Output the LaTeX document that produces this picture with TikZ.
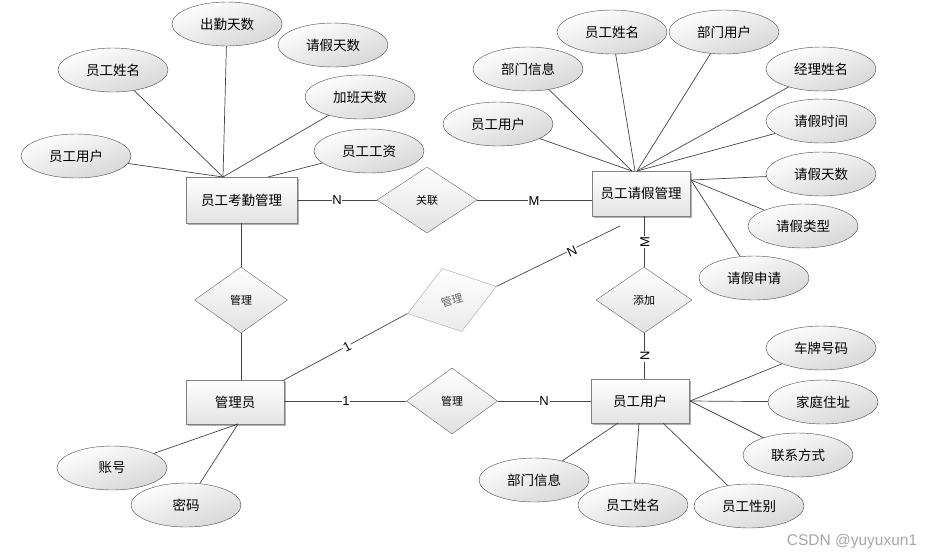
\documentclass[tikz,border=0pt]{standalone}
\usepackage{fontspec}
\setmainfont{Liberation Sans}
\newfontfamily\cjk{Noto Sans CJK SC}
\usetikzlibrary{shapes.geometric,shadows}
\definecolor{ln}{HTML}{454545}
\tikzset{
  ent/.style={rectangle, draw=black!50, top color=white, bottom color=black!11,
    minimum width=98pt, minimum height=44pt, inner sep=0pt,
    font=\cjk\fontsize{13.5}{15}\selectfont,
    drop shadow={shadow xshift=2pt, shadow yshift=-2pt, opacity=0.3, fill=black}},
  attr/.style={ellipse, draw=black!70, top color=white, bottom color=black!16,
    shading angle=20, minimum width=110pt, minimum height=44pt, inner sep=0pt,
    font=\cjk\fontsize{13.5}{15}\selectfont},
  rel/.style={diamond, draw=black!60, top color=white, bottom color=black!12,
    minimum width=93pt, minimum height=66pt, inner sep=0pt,
    font=\cjk\fontsize{11}{13}\selectfont},
  lab/.style={fill=white, inner sep=0.8pt, font=\fontsize{13}{14}\selectfont},
  con/.style={draw=ln, line width=0.7pt},
}
\begin{document}
\begin{tikzpicture}[x=1pt, y=-1pt]
\useasboundingbox (0,0) rectangle (926,558);
% entities
\node[ent, minimum width=111pt, minimum height=46pt] (kq) at (241.5,200) {员工考勤管理};
\node[ent, minimum height=45pt] (qj) at (641,193.5) {员工请假管理};
\node[ent] (admin) at (235,402) {管理员};
\node[ent] (yg) at (640,401) {员工用户};
% relationships
\node[rel, minimum width=100pt] (gl) at (427,200) {关联};
\node[rel] (gly) at (241,300) {管理};
\node[rel, minimum width=96pt] (tj) at (644,300) {添加};
\node[rel, minimum width=91pt] (glb) at (452,401) {管理};
\node[rel, draw=black!35, bottom color=black!8, minimum width=93pt, minimum height=66pt,
      rotate=17, text=black!60] (glt) at (452,300) {管理};
% attributes of 员工考勤管理
\node[attr] (a1) at (227,24) {出勤天数};
\node[attr] (a2) at (333,45) {请假天数};
\node[attr] (a3) at (113,70) {员工姓名};
\node[attr] (a4) at (360,97) {加班天数};
\node[attr] (a5) at (76,156) {员工用户};
\node[attr] (a6) at (369,151) {员工工资};
% attributes of 员工请假管理
\node[attr] (b1) at (528,69) {部门信息};
\node[attr] (b2) at (612,32) {员工姓名};
\node[attr] (b3) at (724,32) {部门用户};
\node[attr] (b4) at (821,69) {经理姓名};
\node[attr] (b5) at (498,124) {员工用户};
\node[attr] (b6) at (821,121) {请假时间};
\node[attr] (b7) at (821,174) {请假天数};
\node[attr] (b8) at (803,226) {请假类型};
\node[attr] (b9) at (754,278) {请假申请};
% attributes of 员工用户
\node[attr] (c1) at (821,348) {车牌号码};
\node[attr] (c2) at (823,402) {家庭住址};
\node[attr] (c3) at (798,455) {联系方式};
\node[attr] (c4) at (534,480) {部门信息};
\node[attr] (c5) at (633,505) {员工姓名};
\node[attr] (c6) at (749,506) {员工性别};
% attributes of 管理员
\node[attr] (d1) at (112,468) {账号};
\node[attr] (d2) at (186,505) {密码};
% junction points
\coordinate (pA) at (223,177);
\coordinate (pA2) at (268,177);
\coordinate (pB) at (632,171);
\coordinate (pB2) at (635,171);
\coordinate (pB3) at (637,171);
\coordinate (pC) at (691,180);
\coordinate (pD) at (690,401);
\coordinate (pD1) at (618,423);
\coordinate (pD2) at (639,423);
\coordinate (pD3) at (663,423);
\coordinate (pE) at (238,424);
\coordinate (pF) at (620,226);
% attribute lines
\draw[con] (a1) -- (pA);
\draw[con] (a3) -- (pA);
\draw[con] (a4) -- (pA);
\draw[con] (a5) -- (pA);
\draw[con] (a6) -- (pA2);
\draw[con] (b5) -- (pB);
\draw[con] (b1) -- (pB);
\draw[con] (b2) -- (pB2);
\draw[con] (b3) -- (pB3);
\draw[con] (b4) -- (pB3);
\draw[con] (b6) -- (pB3);
\draw[con] (b7) -- (pC);
\draw[con] (b8) -- (pC);
\draw[con] (b9) -- (pC);
\draw[con] (c1) -- (pD);
\draw[con] (c2) -- (pD);
\draw[con] (c3) -- (pD);
\draw[con] (c4) -- (pD1);
\draw[con] (c5) -- (pD2);
\draw[con] (c6) -- (pD3);
\draw[con] (d1) -- (pE);
\draw[con] (d2) -- (pE);
% relationship lines
\draw[con] (kq.east |- gl.west) -- (gl.west);
\draw[con] (gl.east) -- (gl.east -| qj.west);
\draw[con] (gly.north |- kq.south) -- (gly.north);
\draw[con] (gly.south) -- (gly.south |- admin.north);
\draw[con] (admin.north east) -- (glt.west);
\draw[con] (glt.east) -- (pF);
\draw[con] (tj.north |- qj.south) -- (tj.north);
\draw[con] (tj.south) -- (tj.south |- yg.north);
\draw[con] (admin.east |- glb.west) -- (glb.west);
\draw[con] (glb.east) -- (glb.east -| yg.west);
% cardinality labels
\node[lab] (l1) at (337,200) {N};
\node[lab] (l2) at (534,201) {M};
\node[lab, rotate=25] (l3) at (572,251) {N};
\node[lab, rotate=27] (l4) at (347,347) {1};
\node[lab, rotate=90] (l5) at (645,242) {M};
\node[lab, rotate=90] (l6) at (645,356) {N};
\node[lab] (l7) at (346,401) {1};
\node[lab] (l8) at (544,401) {N};
% watermark
\node[text=black!35, font=\fontsize{15.5}{17}\selectfont] (wm) at (852,541) {CSDN @yuyuxun1};
\end{tikzpicture}
\end{document}
